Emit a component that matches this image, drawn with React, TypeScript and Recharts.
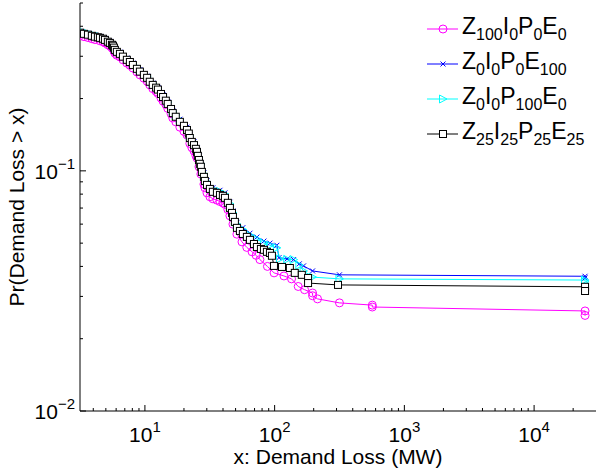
import { LineChart, Line, XAxis, YAxis } from "recharts"

const W = 596
const H = 471
const FONT = "'Liberation Sans', Arial, Helvetica, sans-serif"

// Z100 I0 P0 E0 (magenta, circles)
const zoneLoss = [3.17, 3.39, 3.64, 3.9, 4.12, 4.5, 4.75, 4.92, 5.18, 5.37, 5.57, 5.77, 5.87, 6.08, 6.42, 6.77, 7.26, 7.66, 8.08, 8.68, 9.15, 9.82, 10.4, 10.9, 11.5, 12.2, 12.6, 13.3, 13.8, 14.5, 15.0, 15.9, 16.4, 17.3, 18.6, 20.0, 21.1, 22.2, 23.0, 23.9, 24.7, 25.2, 26.1, 27.0, 28.5, 29.0, 30.1, 31.7, 33.4, 35.9, 37.9, 39.9, 41.4, 43.6, 45.2, 47.7, 51.2, 56, 61, 67, 72, 77, 88, 99, 118, 135, 152, 170, 196, 196, 214, 316, 566, 566, 24700, 24700]
const zoneProb = [0.366, 0.362, 0.359, 0.355, 0.352, 0.348, 0.345, 0.341, 0.335, 0.331, 0.325, 0.316, 0.309, 0.303, 0.298, 0.29, 0.281, 0.275, 0.268, 0.258, 0.251, 0.243, 0.236, 0.228, 0.22, 0.214, 0.21, 0.201, 0.195, 0.189, 0.182, 0.173, 0.166, 0.16, 0.152, 0.146, 0.141, 0.13, 0.125, 0.121, 0.116, 0.113, 0.104, 0.097, 0.088, 0.085, 0.081, 0.078, 0.0765, 0.0755, 0.0745, 0.0735, 0.0725, 0.069, 0.065, 0.06, 0.0545, 0.0506, 0.048, 0.046, 0.0445, 0.0427, 0.04, 0.0376, 0.0365, 0.0355, 0.033, 0.032, 0.031, 0.0302, 0.0293, 0.0282, 0.0276, 0.0271, 0.0261, 0.025]

// Z0 I0 P0 E100 (blue, x)
const eventLoss = [3.17, 3.64, 4.12, 4.5, 4.92, 5.37, 5.67, 5.87, 6.42, 7.26, 8.08, 9.15, 10.4, 11.5, 12.6, 13.8, 15.0, 16.4, 18.6, 21.1, 22.2, 23.9, 25.2, 26.1, 27.0, 28.5, 30.1, 33.4, 37.9, 41.4, 45.2, 47.7, 51.2, 56.9, 64.5, 73, 82.7, 92, 104, 108, 125, 140, 155, 167, 196, 316, 24700, 24700]
const eventProb = [0.381, 0.374, 0.367, 0.363, 0.356, 0.346, 0.337, 0.324, 0.312, 0.295, 0.281, 0.264, 0.248, 0.232, 0.222, 0.207, 0.194, 0.178, 0.164, 0.152, 0.141, 0.132, 0.124, 0.115, 0.108, 0.098, 0.091, 0.085, 0.083, 0.081, 0.074, 0.068, 0.061, 0.058, 0.055, 0.053, 0.051, 0.05, 0.049, 0.0435, 0.043, 0.0427, 0.041, 0.0402, 0.0383, 0.0369, 0.0364, 0.0358]

// Z0 I0 P100 E0 (cyan, triangles)
const plantLoss = [3.17, 3.39, 3.64, 3.9, 4.12, 4.5, 4.92, 5.37, 5.67, 5.87, 6.42, 7.26, 8.08, 8.68, 9.15, 10.4, 11.5, 12.6, 13.8, 15.0, 16.4, 17.3, 18.6, 21.1, 22.2, 23.9, 25.2, 26.1, 27.0, 28.5, 30.1, 33.4, 37.9, 41.4, 45.2, 47.7, 51.2, 56.9, 64.5, 73, 82.7, 92, 104, 110, 125, 140, 155, 167, 196, 316, 24700, 24700]
const plantProb = [0.38, 0.376, 0.373, 0.369, 0.366, 0.362, 0.355, 0.345, 0.336, 0.323, 0.311, 0.294, 0.28, 0.27, 0.263, 0.247, 0.231, 0.221, 0.206, 0.193, 0.177, 0.171, 0.163, 0.151, 0.14, 0.131, 0.123, 0.114, 0.107, 0.097, 0.09, 0.084, 0.082, 0.08, 0.073, 0.067, 0.06, 0.057, 0.054, 0.052, 0.05, 0.049, 0.0478, 0.043, 0.0428, 0.0427, 0.0405, 0.0383, 0.0361, 0.0355, 0.0351, 0.0346]

// Z25 I25 P25 E25 (black, squares)
const mixLoss = [3.17, 3.39, 3.64, 3.9, 4.12, 4.34, 4.5, 4.75, 4.92, 5.18, 5.37, 5.57, 5.67, 5.77, 5.87, 6.08, 6.42, 6.77, 7.26, 7.66, 8.08, 8.68, 9.15, 9.82, 10.4, 10.9, 11.5, 12.2, 12.6, 13.3, 13.8, 14.5, 15.0, 15.9, 16.4, 17.3, 18.6, 20.0, 21.1, 21.8, 22.2, 23.0, 23.9, 24.7, 25.2, 25.6, 26.1, 26.5, 27.0, 27.5, 28.5, 29.0, 30.1, 31.7, 33.4, 35.9, 37.9, 39.9, 41.4, 43.6, 45.2, 46.9, 47.7, 49.4, 51.2, 54.0, 56.9, 61.1, 64.5, 69.3, 73.0, 78.4, 82.7, 87.2, 92.0, 95.3, 98.8, 114, 131, 143, 162, 181, 181, 308, 24700, 24700]
const mixProb = [0.376, 0.372, 0.369, 0.365, 0.362, 0.36, 0.358, 0.355, 0.351, 0.345, 0.341, 0.335, 0.332, 0.326, 0.319, 0.313, 0.307, 0.299, 0.29, 0.284, 0.276, 0.266, 0.259, 0.251, 0.244, 0.235, 0.228, 0.222, 0.218, 0.209, 0.203, 0.196, 0.19, 0.181, 0.174, 0.168, 0.16, 0.154, 0.148, 0.143, 0.137, 0.132, 0.128, 0.1235, 0.12, 0.1155, 0.111, 0.107, 0.104, 0.099, 0.0944, 0.0908, 0.0874, 0.0841, 0.0818, 0.081, 0.0794, 0.0787, 0.0772, 0.0736, 0.0701, 0.0668, 0.0643, 0.0613, 0.0579, 0.0562, 0.0546, 0.0531, 0.0516, 0.0496, 0.0482, 0.0473, 0.0469, 0.046, 0.0455, 0.0443, 0.0402, 0.0398, 0.0394, 0.0376, 0.0369, 0.0358, 0.0341, 0.0335, 0.0329, 0.0316]

const xTicks = [4, 5, 6, 7, 8, 9, 10, 20, 30, 40, 50, 60, 70, 80, 90, 100, 200, 300, 400, 500, 600, 700, 800, 900, 1000, 2000, 3000, 4000, 5000, 6000, 7000, 8000, 9000, 10000, 20000]
const yTicks = [0.01, 0.02, 0.03, 0.04, 0.05, 0.06, 0.07, 0.08, 0.09, 0.1, 0.2, 0.3, 0.4, 0.5]

const legendNames = [
  [["Z", "100"], ["I", "0"], ["P", "0"], ["E", "0"]],
  [["Z", "0"], ["I", "0"], ["P", "0"], ["E", "100"]],
  [["Z", "0"], ["I", "0"], ["P", "100"], ["E", "0"]],
  [["Z", "25"], ["I", "25"], ["P", "25"], ["E", "25"]],
]

const zip = (xs: number[], ys: number[]) => xs.map((x, i) => ({ x, y: ys[i] }))

const decade = (v: number) => {
  const e = Math.round(Math.log10(v))
  return Math.abs(Math.log10(v) - e) < 1e-6 ? e : null
}

// markers
const Circle = ({ cx, cy, color }: any) => <circle cx={cx} cy={cy} r={4} fill="none" stroke={color} strokeWidth={1} />
const Cross = ({ cx, cy, color }: any) => (
  <path d={`M${cx - 2.5},${cy - 2.5}L${cx + 2.5},${cy + 2.5}M${cx - 2.5},${cy + 2.5}L${cx + 2.5},${cy - 2.5}`} stroke={color} strokeWidth={1} />
)
const Tri = ({ cx, cy, color }: any) => (
  <path d={`M${cx - 3.5},${cy - 4}L${cx + 4},${cy}L${cx - 3.5},${cy + 4}Z`} fill="none" stroke={color} strokeWidth={1} />
)
const Square = ({ cx, cy, color }: any) => (
  <rect x={cx - 3.5} y={cy - 3.5} width={7} height={7} fill="#fff" stroke={color} strokeWidth={1} />
)

const series = [
  { key: "z100", data: zip(zoneLoss, zoneProb), color: "#ff00ff", Mark: Circle },
  { key: "e100", data: zip(eventLoss, eventProb), color: "#0000ff", Mark: Cross },
  { key: "p100", data: zip(plantLoss, plantProb), color: "#00ffff", Mark: Tri },
  { key: "mix", data: zip(mixLoss, mixProb), color: "#000000", Mark: Square },
]

const XTick = ({ x, y, payload }: any) => {
  const e = decade(payload.value)
  return (
    <g>
      <line x1={x} x2={x} y1={y} y2={y - (e !== null ? 6 : 3)} stroke="#000" />
      {e !== null && (
        <text x={x} y={y + 31} textAnchor="middle" fontSize={21} fontFamily={FONT} fill="#000">
          <tspan>10</tspan>
          <tspan dy={-10} fontSize={15}>{e}</tspan>
        </text>
      )}
    </g>
  )
}

const YTick = ({ x, y, payload }: any) => {
  const e = decade(payload.value)
  return (
    <g>
      <line x1={x} x2={x + (e !== null ? 6 : 3)} y1={y} y2={y} stroke="#000" />
      {e !== null && (
        <text x={x - 5} y={y + 8} textAnchor="end" fontSize={21} fontFamily={FONT} fill="#000">
          <tspan>10</tspan>
          <tspan dy={-10} fontSize={15}>{e < 0 ? `\u2212${-e}` : e}</tspan>
        </text>
      )}
    </g>
  )
}

const Legend = () => (
  <svg width={W} height={H} style={{ position: "absolute", left: 0, top: 0, pointerEvents: "none" }}>
    {series.map((s, i) => {
      const ly = 29 + i * 35
      const M = s.Mark
      return (
        <g key={s.key}>
          <line x1={427} x2={458} y1={ly} y2={ly} stroke={s.color} strokeWidth={1} />
          <M cx={443} cy={ly} color={s.color} />
          <text x={462} y={ly + 5} fontSize={23} fontFamily={FONT} fill="#000">
            {legendNames[i].map(([m, sub], j) => [
              <tspan key={`m${j}`} dy={j === 0 ? 0 : -6}>{m}</tspan>,
              <tspan key={`s${j}`} dy={6} fontSize={16}>{sub}</tspan>,
            ])}
          </text>
        </g>
      )
    })}
  </svg>
)

export default function App() {
  return (
    <div style={{ position: "fixed", left: 0, top: 0, width: W, height: H, background: "#fff" }}>
      <LineChart width={W} height={H} margin={{ top: 3, right: 0, bottom: 0, left: 0 }}>
        <XAxis
          dataKey="x"
          type="number"
          scale="log"
          domain={[3.16, 30000]}
          allowDataOverflow
          ticks={xTicks}
          interval={0}
          tick={<XTick />}
          tickLine={false}
          tickSize={0}
          tickMargin={0}
          height={60}
          axisLine={{ stroke: "#000" }}
          label={{
            content: () => (
              <text x={338} y={464} textAnchor="middle" fontSize={21} fontFamily={FONT} fill="#000">
                x: Demand Loss (MW)
              </text>
            ),
          }}
        />
        <YAxis
          dataKey="y"
          type="number"
          scale="log"
          domain={[0.01, 0.5]}
          allowDataOverflow
          ticks={yTicks}
          interval={0}
          tick={<YTick />}
          tickLine={false}
          tickSize={0}
          tickMargin={0}
          width={80}
          axisLine={{ stroke: "#000" }}
          label={{
            content: () => (
              <text transform="translate(24,207) rotate(-90)" textAnchor="middle" fontSize={21} fontFamily={FONT} fill="#000">
                Pr(Demand Loss &gt; x)
              </text>
            ),
          }}
        />
        {series.map((s) => (
          <Line
            key={s.key}
            data={s.data}
            dataKey="y"
            type="linear"
            stroke={s.color}
            strokeWidth={1}
            isAnimationActive={false}
            dot={(p: any) => <s.Mark key={`${s.key}-${p.index}`} cx={p.cx} cy={p.cy} color={s.color} />}
            activeDot={false}
          />
        ))}
      </LineChart>
      <Legend />
    </div>
  )
}
